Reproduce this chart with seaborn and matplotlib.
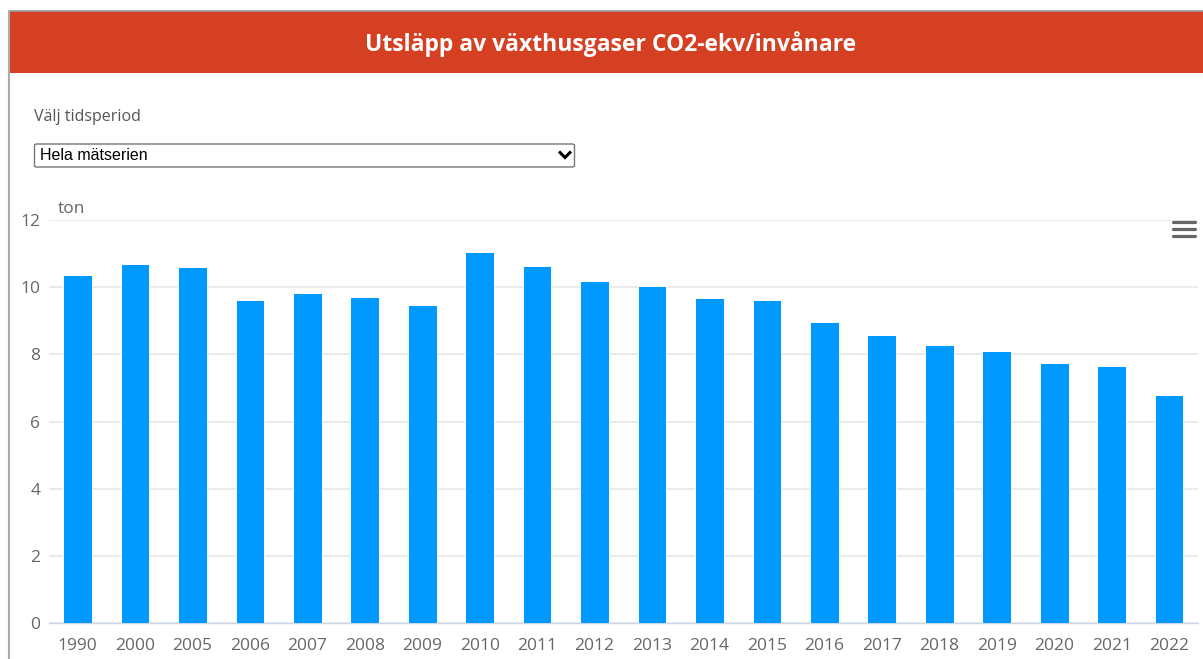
import matplotlib
matplotlib.use("Agg")
import matplotlib.pyplot as plt
import seaborn as sns
import pandas as pd
from matplotlib.patches import Rectangle, FancyBboxPatch
from matplotlib.lines import Line2D

# data
years = ["1990", "2000", "2005", "2006", "2007", "2008", "2009", "2010", "2011", "2012",
         "2013", "2014", "2015", "2016", "2017", "2018", "2019", "2020", "2021", "2022"]
ton_per_inv = [10.36, 10.69, 10.60, 9.61, 9.82, 9.70, 9.46, 11.05, 10.62, 10.17,
               10.04, 9.69, 9.61, 8.96, 8.57, 8.27, 8.09, 7.75, 7.64, 6.80]
yticks = [0, 2, 4, 6, 8, 10, 12]

title = "Utsläpp av växthusgaser CO2-ekv/invånare"
period_label = "Välj tidsperiod"
period_choice = "Hela mätserien"
unit = "ton"

W, H = 1203, 659
df = pd.DataFrame({"year": years, "value": ton_per_inv})

sns.set_style("white")
plt.rcParams["font.family"] = ["Open Sans", "DejaVu Sans"]

fig = plt.figure(figsize=(W / 100, H / 100), dpi=100)


def px(x, y):
    return x / W, 1 - y / H


# header bar and page border
fig.patches.append(Rectangle(px(9, 73), (W - 9) / W, 62 / H, transform=fig.transFigure,
                             facecolor="#d64022", edgecolor="none", zorder=0))
fig.add_artist(Line2D([9 / W, 1], [1 - 10.5 / H] * 2, color="#9a9a9a", lw=1.2))
fig.add_artist(Line2D([8.5 / W] * 2, [0, 1 - 10.5 / H], color="#ababab", lw=1.5))
fig.text(*px(611, 44), title, color="white", fontsize=16.5, fontweight="bold",
         ha="center", va="center")

# period selector
fig.text(*px(34, 117), period_label, color="#555555", fontsize=11.5, va="center")
fig.patches.append(FancyBboxPatch(px(34.5, 167), 540 / W, 23 / H, transform=fig.transFigure,
                                  boxstyle="round,pad=0,rounding_size=0.002",
                                  facecolor="white", edgecolor="#767676", lw=1))
fig.text(*px(40, 156), period_choice, color="black", fontsize=11.5, va="center",
         family="Liberation Sans")
fig.add_artist(Line2D([559 / W, 565 / W, 571 / W], [1 - 151.5 / H, 1 - 157.5 / H, 1 - 151.5 / H],
                      color="black", lw=2.2, solid_capstyle="butt", solid_joinstyle="miter"))

# menu icon
for yy in (222, 229, 236):
    fig.add_artist(Line2D([1173 / W, 1195 / W], [1 - yy / H] * 2, color="#666666", lw=2.3,
                          solid_capstyle="round"))

# chart
ax = fig.add_axes([48.8 / W, 1 - 623 / H, 1149 / W, 403 / H])
sns.barplot(data=df, x="year", y="value", color="#0099ff", saturation=1, width=0.5,
            edgecolor="white", linewidth=0.7, ax=ax, zorder=3)
ax.set_xlim(-0.5, len(years) - 0.5)
ax.set_ylim(0, 12)
ax.set_yticks(yticks)
ax.yaxis.grid(True, color="#e6e6e6", lw=1.2, zorder=0)
ax.set_axisbelow(True)
for s in ["top", "left", "right"]:
    ax.spines[s].set_visible(False)
ax.spines["bottom"].set_color("#ccd6eb")
ax.spines["bottom"].set_linewidth(1)
ax.tick_params(axis="both", length=0, labelsize=12.5, colors="#666666")
ax.tick_params(axis="y", pad=6)
ax.tick_params(axis="x", pad=10.5)
ax.set_xlabel("")
ax.set_ylabel("")
fig.text(*px(58, 209), unit, color="#666666", fontsize=12.5, va="center")

fig.savefig("out.png", dpi=100)
